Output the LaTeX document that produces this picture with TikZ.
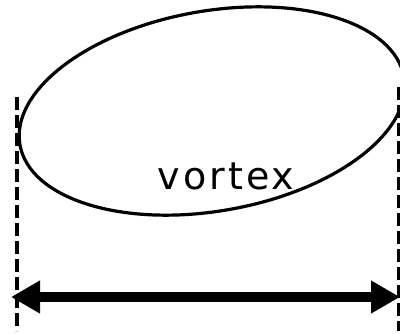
\documentclass[tikz,border=0pt]{standalone}
\usepackage{fontspec}
\setmainfont{DejaVu Sans}
\newfontfamily\labelfont[LetterSpace=8]{DejaVu Sans}
\usetikzlibrary{arrows.meta,shapes.geometric}
\tikzset{
  vortexshape/.style={ellipse, draw, line width=3.2pt, minimum width=390pt, minimum height=200pt, inner sep=0pt, rotate=10},
  guide/.style={line width=4.5pt, dash pattern=on 13pt off 5pt},
  span/.style={line width=10pt, {Triangle[length=29pt,width=31pt]}-{Triangle[length=29pt,width=31pt]}},
  lbl/.style={font=\labelfont\fontsize{38}{38}\selectfont, anchor=base, inner sep=0pt}
}
\begin{document}
\begin{tikzpicture}[x=1pt,y=1pt]
\useasboundingbox (0,0) rectangle (400,333);
\node[vortexshape] (v) at (212,222) {};
\node[lbl] (t) at (226,143) {vortex};
\coordinate (l1) at (17,236);
\coordinate (l2) at (17,2);
\coordinate (r1) at (399,246);
\coordinate (r2) at (399,2);
\draw[guide] (l1) -- (l2);
\draw[guide, line width=3.5pt] (r1) -- (r2);
\coordinate (al) at (11,36);
\coordinate (ar) at (400,36);
\draw[span] (al) -- (ar);
\end{tikzpicture}
\end{document}
